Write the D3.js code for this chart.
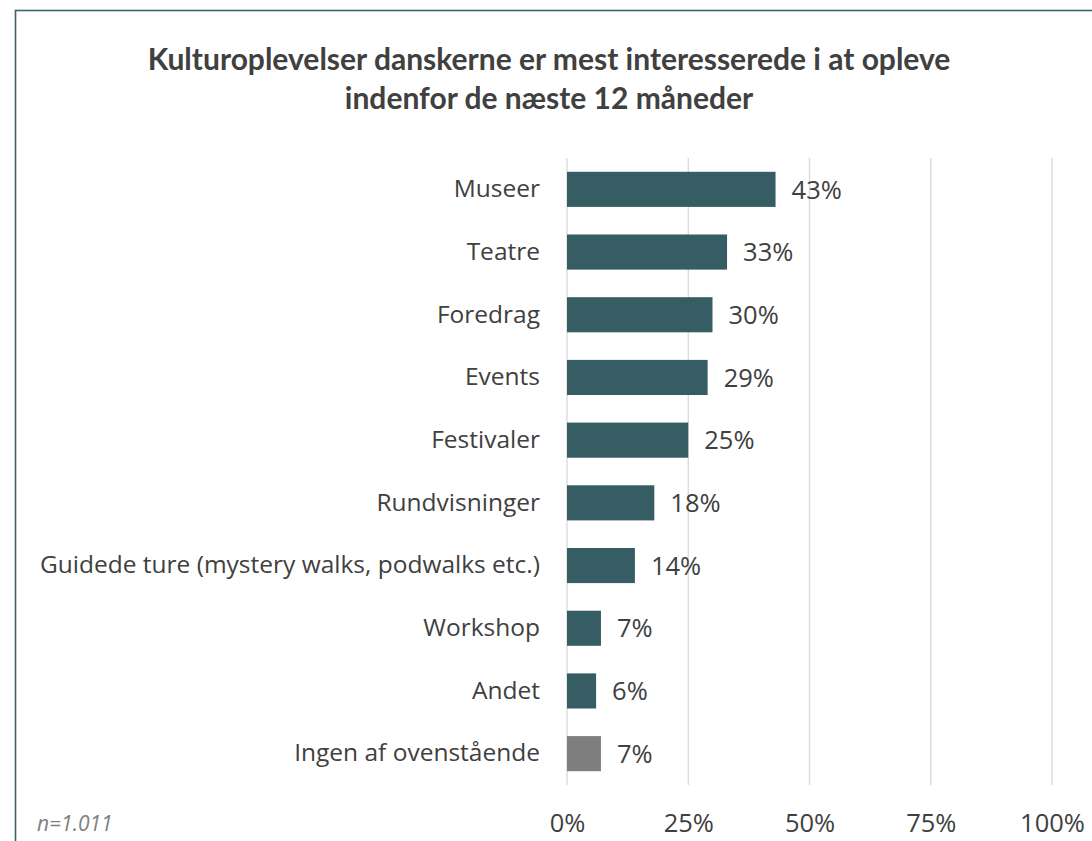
<!DOCTYPE html>
<html>
<head>
<meta charset="utf-8">
<script src="https://cdn.jsdelivr.net/npm/d3@7"></script>
<style>
  html, body { margin: 0; padding: 0; background: #ffffff; }
  svg { display: block; }
</style>
</head>
<body>
<svg id="chart" width="1092" height="841"></svg>
<script>
// Survey results: share of respondents interested in each cultural experience
const categories = [
  "Museer",
  "Teatre",
  "Foredrag",
  "Events",
  "Festivaler",
  "Rundvisninger",
  "Guidede ture (mystery walks, podwalks etc.)",
  "Workshop",
  "Andet",
  "Ingen af ovenstående"
];
const values = [43, 33, 30, 29, 25, 18, 14, 7, 6, 7];
const tickValues = [0, 25, 50, 75, 100];
const titleLines = [
  "Kulturoplevelser danskerne er mest interesserede i at opleve",
  "indenfor de næste 12 måneder"
];
const note = "n=1.011";

const W = 1092, H = 841;
const margin = { left: 567, right: 40, top: 158, bottom: 56 };
const svg = d3.select("#chart");

// outer frame
svg.append("rect")
  .attr("x", 15.5).attr("y", 10.5)
  .attr("width", W + 10).attr("height", H + 10)
  .attr("fill", "#ffffff")
  .attr("stroke", "#3b636b").attr("stroke-width", 1.6);

// title
const title = svg.append("text")
  .attr("text-anchor", "middle")
  .attr("font-family", "Lato, 'Open Sans', sans-serif")
  .attr("font-weight", "bold")
  .attr("font-size", 30)
  .attr("fill", "#404040");
titleLines.forEach((t, i) => {
  title.append("tspan").attr("x", 549).attr("y", 70 + i * 39).text(t);
});

const x = d3.scaleLinear().domain([0, 100]).range([margin.left, W - margin.right]);
const y = d3.scaleBand().domain(categories).range([margin.top, H - margin.bottom]).paddingInner(0.44).paddingOuter(0.22);

// vertical gridlines
svg.append("g").selectAll("line").data(tickValues).join("line")
  .attr("x1", d => x(d)).attr("x2", d => x(d))
  .attr("y1", margin.top).attr("y2", H - margin.bottom)
  .attr("stroke", "#d9d9d9").attr("stroke-width", 1.3);

// bars
svg.append("g").selectAll("rect").data(categories).join("rect")
  .attr("x", x(0))
  .attr("y", d => y(d))
  .attr("width", (d, i) => x(values[i]) - x(0))
  .attr("height", y.bandwidth())
  .attr("fill", (d, i) => i === categories.length - 1 ? "#7f7f7f" : "#365d63");

// value labels
svg.append("g").selectAll("text").data(categories).join("text")
  .attr("x", (d, i) => x(values[i]) + 16)
  .attr("y", d => y(d) + y.bandwidth() / 2)
  .attr("dy", "0.36em")
  .attr("font-family", "'Open Sans', sans-serif")
  .attr("font-size", 25.5)
  .attr("fill", "#404040")
  .text((d, i) => values[i] + "%");

// category axis
const yAxis = svg.append("g")
  .attr("transform", `translate(${x(0)},0)`)
  .call(d3.axisLeft(y).tickSize(0).tickPadding(27));
yAxis.select(".domain").remove();
yAxis.selectAll("text")
  .attr("font-family", "'Open Sans', sans-serif")
  .attr("font-size", 24.5)
  .attr("fill", "#404040");

// value axis
const xAxis = svg.append("g")
  .attr("transform", `translate(0,${H - margin.bottom})`)
  .call(d3.axisBottom(x).tickValues(tickValues).tickFormat(d => d + "%").tickSize(0).tickPadding(29));
xAxis.select(".domain").remove();
xAxis.selectAll("text")
  .attr("font-family", "'Open Sans', sans-serif")
  .attr("font-size", 25.5)
  .attr("fill", "#404040");

// sample size note
svg.append("text")
  .attr("x", 37).attr("y", 831)
  .attr("font-family", "'Open Sans', sans-serif")
  .attr("font-style", "italic")
  .attr("font-size", 21)
  .attr("fill", "#7f7f7f")
  .text(note);
</script>
</body>
</html>
